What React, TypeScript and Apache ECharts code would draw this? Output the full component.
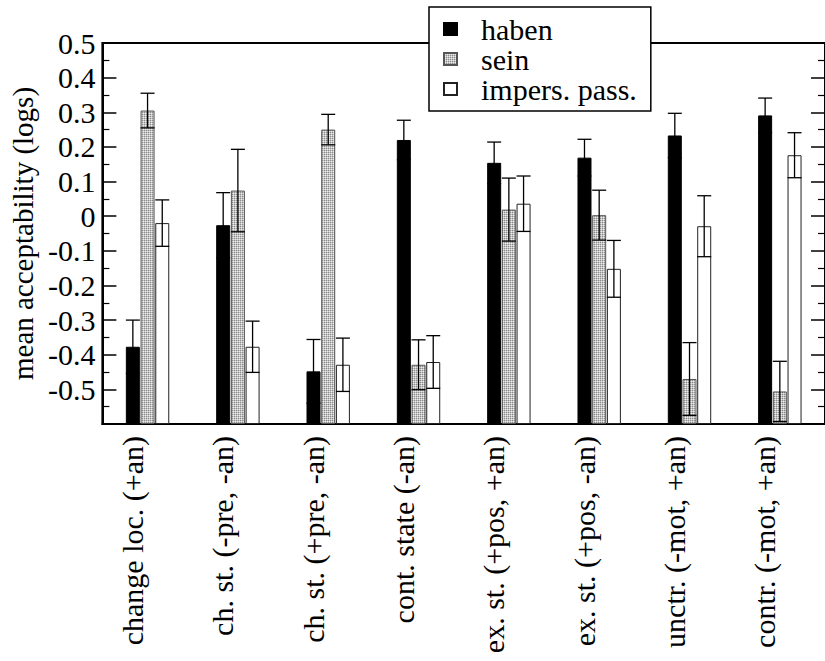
import React, { useEffect, useRef } from "react";
import * as echarts from "echarts";

const categories = [
  "change loc. (+an)",
  "ch. st. (-pre, -an)",
  "ch. st. (+pre, -an)",
  "cont. state (-an)",
  "ex. st. (+pos, +an)",
  "ex. st. (+pos, -an)",
  "unctr. (-mot, +an)",
  "contr. (-mot, +an)",
];
const seriesNames = ["haben", "sein", "impers. pass."];
const haben = [-0.377, -0.026, -0.448, 0.22, 0.154, 0.169, 0.233, 0.291];
const habenErr = [0.077, 0.094, 0.092, 0.057, 0.06, 0.053, 0.064, 0.05];
const sein = [0.305, 0.074, 0.25, -0.429, 0.019, 0.003, -0.47, -0.506];
const seinErr = [0.05, 0.119, 0.044, 0.072, 0.091, 0.072, 0.105, 0.087];
const impers = [-0.02, -0.377, -0.429, -0.421, 0.036, -0.152, -0.029, 0.176];
const impersErr = [0.067, 0.074, 0.077, 0.076, 0.08, 0.082, 0.088, 0.065];
const yMin = -0.6;
const yMax = 0.5;
const yStep = 0.1;

const FONT = "Liberation Serif";
const BAR_W = 14;
const BAR_OFFSETS = [-14.7, 0, 14.7];

function makePattern(): HTMLCanvasElement {
  const c = document.createElement("canvas");
  c.width = 2;
  c.height = 2;
  const ctx = c.getContext("2d")!;
  ctx.fillStyle = "#ececec";
  ctx.fillRect(0, 0, 2, 2);
  ctx.fillStyle = "#8c8c8c";
  ctx.fillRect(0, 0, 1, 1);
  ctx.fillStyle = "#c4c4c4";
  ctx.fillRect(1, 0, 1, 1);
  ctx.fillRect(0, 1, 1, 1);
  return c;
}

export default function App() {
  const ref = useRef<HTMLDivElement>(null);
  useEffect(() => {
    if (!ref.current) return;
    const chart = echarts.init(ref.current, null, { renderer: "svg" });
    const shift = (v: number) => v - yMin;
    const values = [haben, sein, impers];
    const errs = [habenErr, seinErr, impersErr];
    const pattern = makePattern();
    const styles = [
      { color: "#000", borderColor: "#000", borderWidth: 1 },
      { color: { image: pattern, repeat: "repeat" }, borderColor: "#555", borderWidth: 1 },
      { color: "#fff", borderColor: "#222", borderWidth: 1 },
    ];
    const barSeries = values.map((arr, k) => ({
      name: seriesNames[k],
      type: "bar",
      barWidth: BAR_W,
      barGap: "5%",
      data: arr.map(shift),
      itemStyle: styles[k],
      z: 2,
    }));
    const errSeries = values.map((arr, k) => ({
      name: seriesNames[k] + " err",
      type: "custom",
      z: 5,
      data: arr.map((v, i) => [i, shift(v - errs[k][i]), shift(v + errs[k][i])]),
      encode: { x: 0, y: [1, 2] },
      renderItem: (params: any, api: any) => {
        const c = api.value(0);
        const pLo = api.coord([c, api.value(1)]);
        const pHi = api.coord([c, api.value(2)]);
        const x = pLo[0] + BAR_OFFSETS[k];
        const hw = BAR_W / 2;
        const st = { stroke: "#000", lineWidth: 1.3 };
        return {
          type: "group",
          children: [
            { type: "line", shape: { x1: x, y1: pLo[1], x2: x, y2: pHi[1] }, style: st },
            { type: "line", shape: { x1: x - hw, y1: pLo[1], x2: x + hw, y2: pLo[1] }, style: st },
            { type: "line", shape: { x1: x - hw, y1: pHi[1], x2: x + hw, y2: pHi[1] }, style: st },
          ],
        };
      },
    }));
    const fmt = (v: number) => {
      const r = Math.round((v + yMin) * 10) / 10;
      if (r <= yMin + 1e-9) return "";
      if (r === 0) return "0";
      return r.toFixed(1);
    };
    const yCommon = {
      type: "value",
      min: 0,
      max: shift(yMax),
      interval: yStep,
      splitLine: { show: false },
      axisTick: { show: true, inside: true, length: 14, lineStyle: { color: "#000", width: 1.5 } },
      minorTick: { show: true, splitNumber: 2, length: 7, lineStyle: { color: "#000", width: 1.2 } },
    };
    chart.setOption({
      animation: false,
      backgroundColor: "#fff",
      textStyle: { fontFamily: FONT, color: "#000" },
      grid: {
        left: 100,
        right: 0,
        top: 43,
        bottom: 237,
        show: true,
        borderColor: "#000",
        borderWidth: 2,
      },
      legend: {
        orient: "vertical",
        left: 429,
        top: 7,
        icon: "rect",
        itemWidth: 13,
        itemHeight: 12,
        itemGap: 0,
        padding: [7, 14, 7, 14],
        borderColor: "#000",
        borderWidth: 1.5,
        backgroundColor: "#fff",
        data: seriesNames,
        textStyle: {
          fontFamily: FONT,
          fontSize: 30,
          lineHeight: 29,
          color: "#000",
          padding: [0, 0, 0, 19],
        },
        z: 10,
      },
      xAxis: {
        type: "category",
        data: categories,
        axisLine: { show: true, lineStyle: { color: "#000", width: 2 } },
        axisTick: { show: false },
        axisLabel: {
          interval: 0,
          rotate: 90,
          margin: 12,
          fontFamily: FONT,
          fontSize: 30,
          color: "#000",
          verticalAlign: "bottom",
        },
      },
      yAxis: [
        {
          ...yCommon,
          position: "left",
          name: "mean acceptability (logs)",
          nameLocation: "middle",
          nameGap: 61,
          nameTextStyle: { fontFamily: FONT, fontSize: 29, color: "#000" },
          axisLine: { show: true, lineStyle: { color: "#000", width: 2 } },
          axisLabel: { show: true, formatter: fmt, fontFamily: FONT, fontSize: 30, color: "#000", margin: 7 },
        },
        {
          ...yCommon,
          position: "right",
          axisLine: { show: false },
          axisLabel: { show: false },
        },
      ],
      series: [...barSeries, ...errSeries],
    } as any);
    return () => chart.dispose();
  }, []);
  return (
    <div
      ref={ref}
      style={{ position: "fixed", left: 0, top: 0, width: 825, height: 661, background: "#fff" }}
    />
  );
}
